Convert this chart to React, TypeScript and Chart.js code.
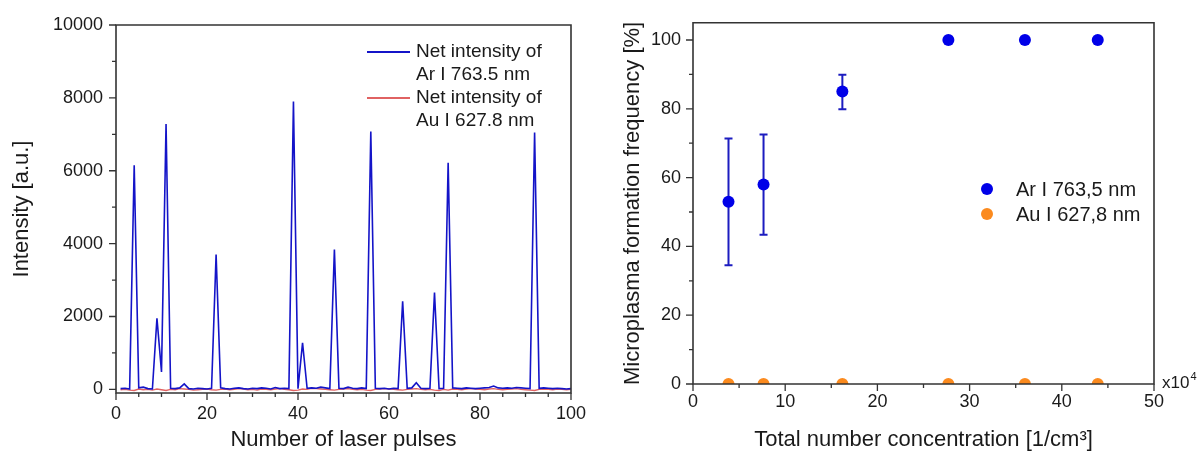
import React, { useEffect, useRef } from 'react';
import { Chart, registerables } from 'chart.js';

Chart.register(...registerables);

// ---------- DATA (left chart) ----------
const pulses: number[] = Array.from({ length: 100 }, (_, i) => i + 1);

const arIntensity: number[] = [
  20, 30, 10, 6150, 40, 60, 20, 10, 1950, 480,
  7280, 30, 20, 40, 150, 20, 10, 30, 20, 10,
  30, 3700, 40, 20, 10, 30, 40, 20, 10, 30,
  20, 40, 30, 10, 50, 20, 30, 20, 7900, 20,
  1280, 30, 40, 30, 60, 40, 20, 3840, 30, 20,
  60, 30, 20, 40, 20, 7080, 30, 20, 30, 10,
  30, 20, 2420, 30, 40, 180, 30, 20, 30, 2660,
  20, 30, 6220, 40, 30, 20, 40, 30, 20, 30,
  40, 50, 90, 40, 30, 40, 30, 50, 40, 30,
  20, 7050, 30, 40, 30, 20, 30, 20, 10, 20,
];

const auIntensity: number[] = [
  -10, 0, -20, -30, 10, -10, 0, -20, 10, -10,
  -30, 0, -10, 20, 10, 0, -20, -10, 0, 10,
  -10, -20, 0, 10, -10, 0, 20, 10, -10, 0,
  -20, 10, 0, -10, 10, 20, 0, -10, -30, -20,
  10, 0, 30, 20, 10, 0, -10, -20, 0, 10,
  20, 0, -10, 0, -20, -30, 0, 10, 20, 10,
  0, -10, -20, 0, 10, 20, 0, -10, 0, -20,
  -30, 0, -20, 10, 0, -10, 10, 20, 10, 0,
  -10, 10, 20, 0, -10, 0, 10, 20, 0, -10,
  -20, -30, 0, 10, 0, -10, 10, 0, -10, 0,
];

const leftLegendAr: string[] = ['Net intensity of', 'Ar I 763.5 nm'];
const leftLegendAu: string[] = ['Net intensity of', 'Au I 627.8 nm'];
const leftXTickLabels: number[] = [0, 20, 40, 60, 80, 100];
const leftYTickLabels: number[] = [0, 2000, 4000, 6000, 8000, 10000];

// ---------- DATA (right chart) ----------
const concentration: number[] = [3.85, 7.65, 16.2, 27.7, 36.0, 43.9];
const arFrequency: number[] = [53, 58, 85, 100, 100, 100];
const arErrLow: (number | null)[] = [34.5, 43.4, 79.9, null, null, null];
const arErrHigh: (number | null)[] = [71.4, 72.5, 89.9, null, null, null];
const auFrequency: number[] = [0, 0, 0, 0, 0, 0];
const rightLegendAr = 'Ar I 763,5 nm';
const rightLegendAu = 'Au I 627,8 nm';
const rightXTickLabels: number[] = [0, 10, 20, 30, 40, 50];
const rightYTickLabels: number[] = [0, 20, 40, 60, 80, 100];

const FONT = "'Liberation Sans', Arial, sans-serif";
const TEXT = '#1a1a1a';
const AXIS = '#333333';
const BLUE_LINE = '#1414c8';
const RED_LINE = '#e06262';
const BLUE_DOT = '#0000e8';
const ORANGE_DOT = '#fb8a1e';
const ERR_BLUE = '#1c1cc0';

const setTicks = (values: number[]) => (s: any) => {
  s.ticks = values.map((v) => ({ value: v }));
};
const plainLabel = (v: number) => String(v);
const noGrid = { display: false, drawTicks: false };

// Draws full frame + tick marks
const frameTicks = {
  id: 'frameTicks',
  afterDraw(chart: any, _args: any, opts: any) {
    const { ctx, chartArea: a, scales } = chart;
    ctx.save();
    ctx.strokeStyle = AXIS;
    ctx.lineWidth = 1.6;
    ctx.beginPath();
    ctx.moveTo(a.left, a.top);
    ctx.lineTo(a.right, a.top);
    ctx.lineTo(a.right, a.bottom);
    ctx.lineTo(a.left, a.bottom);
    ctx.closePath();
    ctx.stroke();
    ctx.lineWidth = 1.3;
    const xs = scales.x;
    const ys = scales.y;
    ctx.beginPath();
    for (let v = opts.xMin; v <= opts.xMax + 1e-9; v += opts.xStep) {
      const px = xs.getPixelForValue(v);
      const major = Math.abs(v / opts.xMajor - Math.round(v / opts.xMajor)) < 1e-6;
      const len = major ? 7 : 4;
      ctx.moveTo(px, a.bottom);
      ctx.lineTo(px, a.bottom + len);
    }
    for (let v = opts.yStart; v <= opts.yEnd + 1e-9; v += opts.yStep) {
      const py = ys.getPixelForValue(v);
      const major = Math.abs(v / opts.yMajor - Math.round(v / opts.yMajor)) < 1e-6;
      const len = major ? 7 : 4;
      ctx.moveTo(a.left, py);
      ctx.lineTo(a.left - len, py);
    }
    ctx.stroke();
    ctx.restore();
  },
};

const leftLegend = {
  id: 'leftLegend',
  afterDraw(chart: any) {
    const { ctx } = chart;
    ctx.save();
    ctx.font = `19px ${FONT}`;
    ctx.fillStyle = TEXT;
    ctx.textBaseline = 'middle';
    ctx.textAlign = 'left';
    const items = [
      { lines: leftLegendAr, color: BLUE_LINE, y: 52 },
      { lines: leftLegendAu, color: RED_LINE, y: 98 },
    ];
    for (const it of items) {
      ctx.strokeStyle = it.color;
      ctx.lineWidth = 2;
      ctx.beginPath();
      ctx.moveTo(367, it.y);
      ctx.lineTo(410, it.y);
      ctx.stroke();
      it.lines.forEach((t: string, i: number) => ctx.fillText(t, 416, it.y + i * 23));
    }
    ctx.restore();
  },
};

const errorBars = {
  id: 'errorBars',
  beforeDatasetsDraw(chart: any) {
    const { ctx, scales } = chart;
    ctx.save();
    ctx.strokeStyle = ERR_BLUE;
    ctx.lineWidth = 2;
    ctx.beginPath();
    concentration.forEach((c, i) => {
      const lo = arErrLow[i];
      const hi = arErrHigh[i];
      if (lo == null || hi == null) return;
      const x = scales.x.getPixelForValue(c);
      const yl = scales.y.getPixelForValue(lo);
      const yh = scales.y.getPixelForValue(hi);
      ctx.moveTo(x, yl);
      ctx.lineTo(x, yh);
      ctx.moveTo(x - 4, yl);
      ctx.lineTo(x + 4, yl);
      ctx.moveTo(x - 4, yh);
      ctx.lineTo(x + 4, yh);
    });
    ctx.stroke();
    ctx.restore();
  },
};

const rightExtras = {
  id: 'rightExtras',
  afterDraw(chart: any) {
    const { ctx } = chart;
    ctx.save();
    const items = [
      { label: rightLegendAr, color: BLUE_DOT, y: 189 },
      { label: rightLegendAu, color: ORANGE_DOT, y: 214 },
    ];
    ctx.font = `20px ${FONT}`;
    ctx.textBaseline = 'middle';
    ctx.textAlign = 'left';
    for (const it of items) {
      ctx.fillStyle = it.color;
      ctx.beginPath();
      ctx.arc(387, it.y, 6, 0, Math.PI * 2);
      ctx.fill();
      ctx.fillStyle = TEXT;
      ctx.fillText(it.label, 416, it.y + 1);
    }
    ctx.textBaseline = 'alphabetic';
    ctx.font = `17px ${FONT}`;
    ctx.fillText('x10', 562, 388);
    const w = ctx.measureText('x10').width;
    ctx.font = `11px ${FONT}`;
    ctx.fillText('4', 562 + w + 1, 380);
    ctx.restore();
  },
};

function leftConfig(): any {
  return {
    type: 'line',
    data: {
      datasets: [
        {
          label: leftLegendAr.join(' '),
          data: pulses.map((p, i) => ({ x: p, y: arIntensity[i] })),
          borderColor: BLUE_LINE,
          borderWidth: 1.6,
          pointRadius: 0,
          tension: 0,
        },
        {
          label: leftLegendAu.join(' '),
          data: pulses.map((p, i) => ({ x: p, y: auIntensity[i] })),
          borderColor: RED_LINE,
          borderWidth: 1.4,
          pointRadius: 0,
          tension: 0,
        },
      ],
    },
    options: {
      animation: false,
      responsive: true,
      maintainAspectRatio: false,
      layout: { padding: { top: 25, right: 29, left: 0, bottom: 0 } },
      plugins: {
        legend: { display: false },
        tooltip: { enabled: false },
        frameTicks: { xMin: 0, xMax: 100, xStep: 5, xMajor: 20, yStart: 0, yEnd: 10000, yStep: 1000, yMajor: 2000 },
      },
      scales: {
        x: {
          type: 'linear',
          min: 0,
          max: 100,
          grid: noGrid,
          border: { display: false },
          afterFit: (s: any) => { s.height = 59; },
          afterBuildTicks: setTicks(leftXTickLabels),
          ticks: {
            autoSkip: false,
            maxRotation: 0,
            padding: 10,
            color: TEXT,
            font: { family: FONT, size: 18 },
            callback: plainLabel,
          },
          title: {
            display: true,
            text: 'Number of laser pulses',
            color: TEXT,
            font: { family: FONT, size: 22, lineHeight: 1 },
            padding: { top: 0, bottom: 1 },
          },
        },
        y: {
          type: 'linear',
          min: -100,
          max: 10000,
          grid: noGrid,
          border: { display: false },
          afterFit: (s: any) => { s.width = 116; },
          afterBuildTicks: setTicks(leftYTickLabels),
          ticks: {
            autoSkip: false,
            padding: 13,
            color: TEXT,
            font: { family: FONT, size: 18 },
            callback: plainLabel,
          },
          title: {
            display: true,
            text: 'Intensity [a.u.]',
            color: TEXT,
            font: { family: FONT, size: 22, lineHeight: 1 },
            padding: { top: 11, bottom: 0 },
          },
        },
      },
    },
    plugins: [frameTicks, leftLegend],
  };
}

function rightConfig(): any {
  return {
    type: 'scatter',
    data: {
      datasets: [
        {
          label: rightLegendAr,
          data: concentration.map((c, i) => ({ x: c, y: arFrequency[i] })),
          backgroundColor: BLUE_DOT,
          borderColor: BLUE_DOT,
          borderWidth: 0,
          pointRadius: 6,
          clip: 0,
        },
        {
          label: rightLegendAu,
          data: concentration.map((c, i) => ({ x: c, y: auFrequency[i] })),
          backgroundColor: ORANGE_DOT,
          borderColor: ORANGE_DOT,
          borderWidth: 0,
          pointRadius: 6,
          clip: 0,
        },
      ],
    },
    options: {
      animation: false,
      responsive: true,
      maintainAspectRatio: false,
      layout: { padding: { top: 18, right: 46, left: 0, bottom: 0 } },
      plugins: {
        legend: { display: false },
        tooltip: { enabled: false },
        frameTicks: { xMin: 0, xMax: 50, xStep: 5, xMajor: 10, yStart: 0, yEnd: 100, yStep: 10, yMajor: 20 },
      },
      scales: {
        x: {
          type: 'linear',
          min: 0,
          max: 50,
          grid: noGrid,
          border: { display: false },
          afterFit: (s: any) => { s.height = 68; },
          afterBuildTicks: setTicks(rightXTickLabels),
          ticks: {
            autoSkip: false,
            maxRotation: 0,
            padding: 7,
            color: TEXT,
            font: { family: FONT, size: 18 },
            callback: plainLabel,
          },
          title: {
            display: true,
            text: 'Total number concentration [1/cm³]',
            color: TEXT,
            font: { family: FONT, size: 22, lineHeight: 1 },
            padding: { top: 0, bottom: 1 },
          },
        },
        y: {
          type: 'linear',
          min: 0,
          max: 105,
          grid: noGrid,
          border: { display: false },
          afterFit: (s: any) => { s.width = 93; },
          afterBuildTicks: setTicks(rightYTickLabels),
          ticks: {
            autoSkip: false,
            padding: 12,
            color: TEXT,
            font: { family: FONT, size: 18 },
            callback: plainLabel,
          },
          title: {
            display: true,
            text: 'Microplasma formation frequency [%]',
            color: TEXT,
            font: { family: FONT, size: 22, lineHeight: 1 },
            padding: { top: 22, bottom: 0 },
          },
        },
      },
    },
    plugins: [errorBars, frameTicks, rightExtras],
  };
}

export default function App() {
  const leftRef = useRef<HTMLCanvasElement>(null);
  const rightRef = useRef<HTMLCanvasElement>(null);
  useEffect(() => {
    document.body.style.margin = '0';
    const c1 = new Chart(leftRef.current!, leftConfig());
    const c2 = new Chart(rightRef.current!, rightConfig());
    return () => {
      c1.destroy();
      c2.destroy();
    };
  }, []);
  return (
    <div style={{ position: 'relative', width: 1200, height: 452, background: '#fff' }}>
      <div style={{ position: 'absolute', left: 0, top: 0, width: 600, height: 452 }}>
        <canvas ref={leftRef} />
      </div>
      <div style={{ position: 'absolute', left: 600, top: 0, width: 600, height: 452 }}>
        <canvas ref={rightRef} />
      </div>
    </div>
  );
}
